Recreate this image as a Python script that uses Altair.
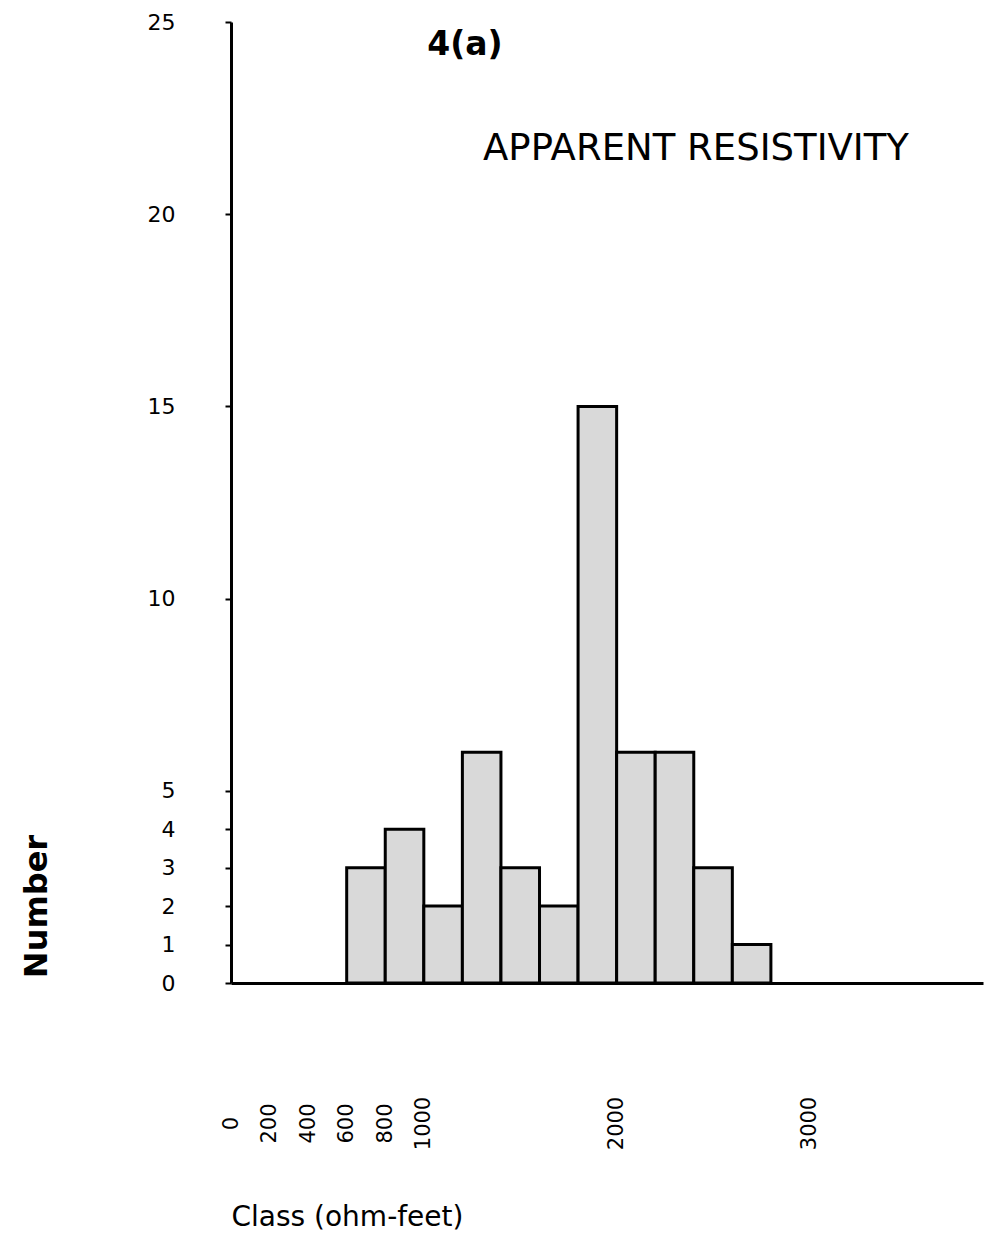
import altair as alt
import pandas as pd

# Class bins (ohm-feet) and counts
bin_start = [600, 800, 1000, 1200, 1400, 1600, 1800, 2000, 2200, 2400, 2600]
bin_end = [800, 1000, 1200, 1400, 1600, 1800, 2000, 2200, 2400, 2600, 2800]
counts = [3, 4, 2, 6, 3, 2, 15, 6, 6, 3, 1]

x_ticks = [0, 200, 400, 600, 800, 1000, 2000, 3000]
y_ticks = [0, 1, 2, 3, 4, 5, 10, 15, 20, 25]

panel_label = ["4(a)"]
panel_title = ["APPARENT RESISTIVITY"]

df = pd.DataFrame({"start": bin_start, "end": bin_end, "count": counts})

FONT = "DejaVu Sans"

bars = alt.Chart(df).mark_rect(
    fill="#d9d9d9", stroke="black", strokeWidth=3
).encode(
    x=alt.X(
        "start:Q",
        scale=alt.Scale(domain=[0, 3900], nice=False, zero=True),
        axis=alt.Axis(
            values=x_ticks,
            format="d",
            labelAngle=-90,
            labelAlign="center",
            labelBaseline="middle",
            labelPadding=140,
            labelFontSize=21,
            labelFont=FONT,
            labelColor="black",
            ticks=False,
            grid=False,
            domainColor="black",
            domainWidth=3,
            labelOverlap=False,
            title="Class (ohm-feet)",
            titleFont=FONT,
            titleFontSize=28,
            titleFontWeight="normal",
            titleColor="black",
            titleX=0,
            titleY=234,
            titleAlign="left",
            titleBaseline="middle",
            titleAnchor="start",
        ),
    ),
    x2="end:Q",
    y=alt.Y(
        "count:Q",
        scale=alt.Scale(domain=[0, 25], nice=False),
        axis=alt.Axis(
            values=y_ticks,
            labelFontSize=22,
            labelFont=FONT,
            labelColor="black",
            labelPadding=50,
            labelAlign="right",
            labelBaseline="middle",
            tickSize=6,
            tickWidth=2,
            tickColor="black",
            grid=False,
            domainColor="black",
            domainWidth=3,
            labelOverlap=False,
            title="Number",
            titleFont=FONT,
            titleFontSize=32,
            titleFontWeight="bold",
            titleColor="black",
            titleAngle=270,
            titleX=-195,
            titleY=884,
            titleAlign="center",
            titleBaseline="middle",
        ),
    ),
    y2=alt.datum(0),
)

label = alt.Chart(pd.DataFrame({"t": panel_label})).mark_text(
    font=FONT, fontSize=33, fontWeight="bold", color="black",
    align="center", baseline="middle"
).encode(text="t:N", x=alt.value(234), y=alt.value(23))

title = alt.Chart(pd.DataFrame({"t": panel_title})).mark_text(
    font=FONT, fontSize=37, fontWeight="normal", color="black",
    align="center", baseline="middle"
).encode(text="t:N", x=alt.value(465), y=alt.value(127))

chart = alt.layer(bars, label, title).properties(
    width=752,
    height=961,
    padding={"left": 223, "top": 14, "right": 1, "bottom": 250},
    autosize=alt.AutoSizeParams(type="none"),
    background="white",
).configure_view(stroke=None)

chart.save("out.html", embed_options={"renderer": "svg", "actions": False})
